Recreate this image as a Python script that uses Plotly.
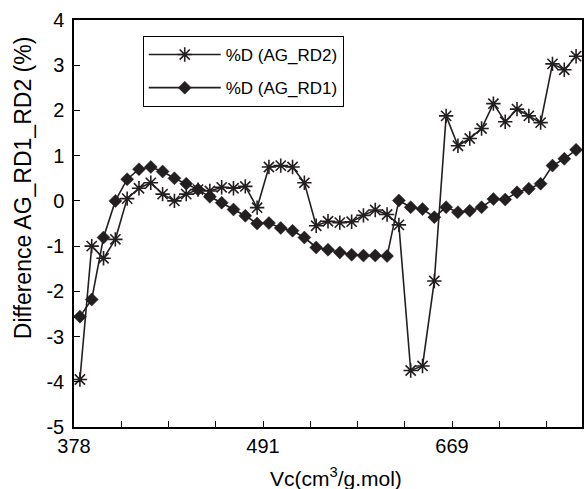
import plotly.graph_objects as go

# --- data ---
rd2 = [-3.95, -1.0, -1.27, -0.85, 0.05, 0.28, 0.40, 0.15, 0.0, 0.15,
       0.25, 0.22, 0.30, 0.28, 0.32, -0.15, 0.75, 0.78, 0.75, 0.40,
       -0.55, -0.45, -0.48, -0.46, -0.32, -0.20, -0.30, -0.53, -3.75, -3.65,
       -1.77, 1.88, 1.22, 1.38, 1.60, 2.15, 1.75, 2.03, 1.88, 1.73,
       3.03, 2.90, 3.20]
rd1 = [-2.56, -2.18, -0.81, 0.0, 0.48, 0.70, 0.75, 0.65, 0.50, 0.38,
       0.25, 0.09, -0.04, -0.19, -0.33, -0.50, -0.49, -0.60, -0.66, -0.81,
       -1.03, -1.08, -1.14, -1.19, -1.21, -1.21, -1.22, 0.01, -0.14, -0.18,
       -0.36, -0.14, -0.25, -0.22, -0.14, 0.04, 0.03, 0.19, 0.27, 0.38,
       0.78, 0.93, 1.13]
x_labels = ["378", "491", "669"]
x_label_every = 16
x_tick_every = 4
y_ticks = [4, 3, 2, 1, 0, -1, -2, -3, -4, -5]

n = len(rd1)
idx = list(range(n))

label_vals = [-0.5 + k * x_label_every for k in range(len(x_labels))]
minor_vals = [-0.5 + k for k in range(0, n, x_tick_every) if k % x_label_every != 0]

ink = "#231f20"
font = "Liberation Sans, Arial, sans-serif"

fig = go.Figure()
fig.add_trace(go.Scatter(
    x=idx, y=rd2, mode="lines+markers", name="%D (AG_RD2)",
    line=dict(color=ink, width=1.6),
    marker=dict(symbol="asterisk-open", size=12, color=ink, line=dict(color=ink, width=1.6)),
    legendgroup="a"))
fig.add_trace(go.Scatter(
    x=idx, y=rd1, mode="lines+markers", name="%D (AG_RD1)",
    line=dict(color=ink, width=1.6),
    marker=dict(symbol="diamond", size=10, color=ink, line=dict(color=ink, width=0.5)),
    legendgroup="b"))

tick_style = dict(ticks="inside", ticklen=6, tickwidth=1.3, tickcolor="black")

fig.update_layout(
    width=585, height=489,
    margin=dict(l=74, r=1, t=20, b=62),
    plot_bgcolor="white", paper_bgcolor="white",
    font=dict(family=font, color="black", size=19),
    showlegend=True,
    legend=dict(x=(143 - 74) / 510, y=(427 - 36) / 407, xanchor="left", yanchor="top",
                bordercolor="black", borderwidth=1, bgcolor="white",
                font=dict(size=17), tracegroupgap=8, itemwidth=72),
    xaxis=dict(range=[-0.5, n - 0.5], tickmode="array", tickvals=label_vals, ticktext=x_labels,
               minor=dict(tickvals=minor_vals, **tick_style),
               showline=True, linecolor="black", linewidth=1.5, mirror=True,
               showgrid=False, zeroline=False, tickfont=dict(size=20),
               ticklabelstandoff=0, **tick_style),
    yaxis=dict(range=[-5, 4], tickmode="array", tickvals=y_ticks,
               ticktext=[str(v) for v in y_ticks],
               showline=True, linecolor="black", linewidth=1.5, mirror=True,
               showgrid=False, zeroline=False, tickfont=dict(size=20),
               ticklabelstandoff=4, **tick_style),
    annotations=[
        dict(text="Difference AG_RD1_RD2 (%)", xref="paper", yref="paper",
             x=(23 - 74) / 510, y=(427 - 188) / 407, textangle=-90,
             showarrow=False, xanchor="center", yanchor="middle",
             font=dict(size=23)),
        dict(text="Vc(cm<sup>3</sup>/g.mol)", xref="paper", yref="paper",
             x=(337 - 74) / 510, y=(427 - 477) / 407,
             showarrow=False, xanchor="center", yanchor="middle",
             font=dict(size=21)),
    ],
)

fig.write_html("out.html")
